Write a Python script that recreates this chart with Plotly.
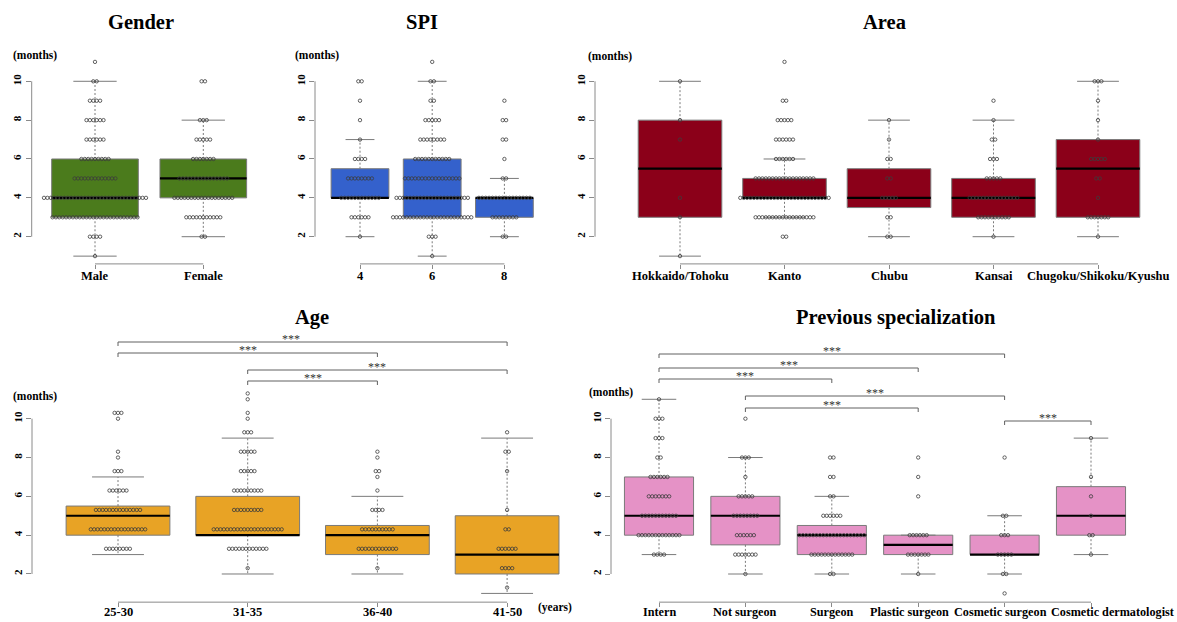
import plotly.graph_objects as go

W, H = 1177, 622

# ---------------- data ----------------
gender_labels = ["Male", "Female"]
gender_q1 = [3, 4]
gender_median = [4, 5]
gender_q3 = [6, 6]
gender_lower = [1, 2]
gender_upper = [10, 8]
gender_dots = [
    {11: 1, 10: 2, 9: 4, 8: 6, 7: 6, 6: 9, 5: 13, 4: 31, 3: 26, 2: 4, 1: 1},
    {10: 2, 8: 3, 7: 5, 6: 7, 5: 15, 4: 18, 3: 11, 2: 2},
]

spi_labels = ["4", "6", "8"]
spi_q1 = [4, 3, 3]
spi_median = [4, 4, 4]
spi_q3 = [5.5, 6, 4]
spi_lower = [2, 1, 2]
spi_upper = [7, 10, 5]
spi_dots = [
    {10: 2, 9: 1, 8: 1, 7: 1, 6: 4, 5: 8, 4: 12, 3: 6, 2: 1},
    {11: 1, 10: 2, 9: 2, 8: 5, 7: 8, 6: 11, 5: 17, 4: 22, 3: 24, 2: 3, 1: 1},
    {9: 1, 8: 2, 7: 2, 6: 1, 5: 2, 4: 16, 3: 8, 2: 2},
]

area_labels = ["Hokkaido/Tohoku", "Kanto", "Chubu", "Kansai", "Chugoku/Shikoku/Kyushu"]
area_q1 = [3, 4, 3.5, 3, 3]
area_median = [5.5, 4, 4, 4, 5.5]
area_q3 = [8, 5, 5.5, 5, 7]
area_lower = [1, 3, 2, 2, 2]
area_upper = [10, 6, 8, 8, 10]
area_dots = [
    {10: 1, 8: 1, 7: 1, 4: 1, 3: 1, 1: 1},
    {11: 1, 9: 2, 8: 5, 7: 6, 6: 6, 5: 18, 4: 27, 3: 18, 2: 2},
    {8: 1, 7: 1, 6: 2, 5: 2, 4: 5, 3: 2, 2: 2},
    {9: 1, 8: 1, 7: 2, 6: 3, 5: 5, 4: 15, 3: 10, 2: 1},
    {10: 3, 9: 1, 8: 1, 7: 1, 6: 5, 5: 2, 4: 1, 3: 7, 2: 1},
]

age_labels = ["25-30", "31-35", "36-40", "41-50"]
age_q1 = [4, 4, 3, 2]
age_median = [5, 4, 4, 3]
age_q3 = [5.5, 6, 4.5, 5]
age_lower = [3, 2, 2, 1]
age_upper = [7, 9, 6, 9]
age_dots = [
    {10.3: 3, 10.0: 1, 8.3: 1, 8.0: 1, 7.3: 3, 6.3: 6, 5.3: 14, 4.3: 17, 3.3: 8},
    {11.3: 1, 11.0: 1, 10.3: 1, 10.0: 1, 9.3: 3, 8.3: 5, 7.3: 5, 6.3: 9, 5.3: 9, 4.3: 21, 3.3: 12, 2.3: 1},
    {8.3: 1, 8.0: 1, 7.3: 2, 7.0: 1, 6.3: 1, 5.3: 4, 4.3: 10, 3.3: 12, 2.3: 1},
    {9.3: 1, 8.3: 2, 7.3: 1, 5.3: 1, 4.3: 2, 3.3: 6, 2.3: 4, 1.3: 1},
]
age_pairs = [(1, 4), (1, 3), (2, 4), (2, 3)]
age_sig = ["***", "***", "***", "***"]
age_star_x = [2.33, 2.0, 3.0, 2.5]

prev_labels = ["Intern", "Not surgeon", "Surgeon", "Plastic surgeon",
               "Cosmetic surgeon", "Cosmetic dermatologist"]
prev_label_x = [1, 2, 3, 3.9, 4.95, 6.25]
prev_q1 = [4, 3.5, 3, 3, 3, 4]
prev_median = [5, 5, 4, 3.5, 3, 5]
prev_q3 = [7, 6, 4.5, 4, 4, 6.5]
prev_lower = [3, 2, 2, 2, 2, 3]
prev_upper = [11, 8, 6, 4, 5, 9]
prev_dots = [
    {11: 1, 10: 3, 9: 3, 8: 2, 7: 6, 6: 7, 5: 11, 4: 13, 3: 4},
    {10: 1, 8: 3, 7: 1, 6: 5, 5: 8, 4: 6, 3: 7, 2: 1},
    {8: 2, 7: 2, 6: 2, 5: 6, 4: 20, 3: 13, 2: 2},
    {8: 1, 7: 1, 6: 1, 4: 6, 3: 7, 2: 1},
    {8: 1, 5: 2, 4: 3, 3: 5, 2: 2, 1: 1},
    {9: 1, 7: 1, 6: 1, 5: 1, 4: 2, 3: 1},
]
prev_pairs = [(1, 5), (1, 4), (1, 3), (2, 5), (2, 4), (5, 6)]
prev_sig = ["***"] * 6

y_ticks = [2, 4, 6, 8, 10]

# ---------------- style ----------------
FONT = "Liberation Serif"
BOX_LINE = "#7a7a7a"
AX_COL = "#8a8a8a"
DOT_COL = "#3c3c3c"
DOT_STEP_PX = 3.4
XLAB_SIZE = 12.5

fig = go.Figure()
shapes = []
annotations = []


def add_panel(idx, labels, q1, med, q3, lo, hi, dots, color,
              L, R, c1, step, y10, y2, yr, label_x=None, label_dy=12, label_size=XLAB_SIZE):
    n = len(labels)
    if label_x is None:
        label_x = list(range(1, n + 1))
    xa = 'x' if idx == 1 else f'x{idx}'
    ya = 'y' if idx == 1 else f'y{idx}'
    u = (y2 - y10) / 8.0
    top = y10 - (yr[1] - 10) * u
    bot = y2 + (2 - yr[0]) * u
    xr = [1 - (c1 - L) / step, 1 + (R - c1) / step]

    bx, by, wx, wy, cx, cy, mx, my = [], [], [], [], [], [], [], []
    for i in range(n):
        g = i + 1
        bx += [g - 0.4, g + 0.4, g + 0.4, g - 0.4, g - 0.4, None]
        by += [q1[i], q1[i], q3[i], q3[i], q1[i], None]
        wx += [g, g, None, g, g, None]
        wy += [q3[i], hi[i], None, q1[i], lo[i], None]
        cx += [g - 0.2, g + 0.2, None, g - 0.2, g + 0.2, None]
        cy += [hi[i], hi[i], None, lo[i], lo[i], None]
        mx += [g - 0.4, g + 0.4, None]
        my += [med[i], med[i], None]

    common = dict(xaxis=xa, yaxis=ya, hoverinfo='skip', showlegend=False)
    fig.add_trace(go.Scatter(x=bx, y=by, mode='lines', fill='toself', fillcolor=color,
                             line=dict(color=BOX_LINE, width=1), **common))
    fig.add_trace(go.Scatter(x=wx, y=wy, mode='lines',
                             line=dict(color=BOX_LINE, width=1, dash='2px,2px'), **common))
    fig.add_trace(go.Scatter(x=cx, y=cy, mode='lines',
                             line=dict(color=BOX_LINE, width=1), **common))
    fig.add_trace(go.Scatter(x=mx, y=my, mode='lines',
                             line=dict(color='black', width=2.2), **common))

    dx = DOT_STEP_PX / step
    px_, py_ = [], []
    for i in range(n):
        g = i + 1
        for v, c in dots[i].items():
            for k in range(c):
                px_.append(g + (k - (c - 1) / 2.0) * dx)
                py_.append(v)
    fig.add_trace(go.Scatter(x=px_, y=py_, mode='markers',
                             marker=dict(symbol='circle-open', size=3.4, color=DOT_COL,
                                         line=dict(width=0.8, color=DOT_COL)),
                             cliponaxis=False, **common))

    xkey = 'xaxis' if idx == 1 else f'xaxis{idx}'
    ykey = 'yaxis' if idx == 1 else f'yaxis{idx}'
    fig.update_layout({
        xkey: dict(domain=[L / W, R / W], range=xr, anchor=ya, automargin=False,
                   tickvals=list(range(1, n + 1)), showticklabels=False,
                   ticks='outside', ticklen=4, tickcolor=AX_COL,
                   showline=False, showgrid=False, zeroline=False),
        ykey: dict(domain=[1 - bot / H, 1 - top / H], range=yr, anchor=xa, automargin=False,
                   tickvals=y_ticks, ticks='outside', ticklen=5, tickcolor=AX_COL,
                   tickangle=-90, showline=False, showgrid=False, zeroline=False,
                   tickfont=dict(family=FONT, size=11, color='black', weight='bold')),
    })
    shapes.append(dict(type='line', xref='paper', yref=ya, x0=L / W, x1=L / W,
                       y0=2, y1=10, line=dict(color=AX_COL, width=1)))
    shapes.append(dict(type='line', xref=xa, yref='paper', x0=1, x1=n,
                       y0=1 - bot / H, y1=1 - bot / H, line=dict(color=AX_COL, width=1)))
    for lab, lx in zip(labels, label_x):
        annotations.append(dict(xref=xa, yref='paper', x=lx, y=1 - (bot + label_dy) / H,
                                text=lab, showarrow=False, yanchor='middle',
                                font=dict(family=FONT, size=label_size, color='black',
                                          weight='bold')))
    return xa


def add_brackets(xa, pairs, sig, line_px, star_x):
    for (a, b), s, py, sx in zip(pairs, sig, line_px, star_x):
        yl = 1 - py / H
        yt = 1 - (py + 4) / H
        shapes.append(dict(type='path', xref=xa, yref='paper',
                           path=f"M {a},{yt} L {a},{yl} L {b},{yl} L {b},{yt}",
                           line=dict(color='#606060', width=1)))
        annotations.append(dict(xref=xa, yref='paper', x=sx, y=1 - (py - 3) / H,
                                text=s, showarrow=False, yanchor='middle',
                                font=dict(family=FONT, size=12, color='#333333')))


add_panel(1, gender_labels, gender_q1, gender_median, gender_q3, gender_lower, gender_upper,
          gender_dots, '#4B7B1C', L=31.7, R=266, c1=95, step=108.3, y10=81.3, y2=236.7, yr=[0.6, 11.4])
add_panel(2, spi_labels, spi_q1, spi_median, spi_q3, spi_lower, spi_upper,
          spi_dots, '#3461CC', L=315, R=550, c1=360, step=72.2, y10=81.3, y2=236.7, yr=[0.6, 11.4])
add_panel(3, area_labels, area_q1, area_median, area_q3, area_lower, area_upper,
          area_dots, '#8B0019', L=595, R=1172, c1=680, step=104.5, y10=81.3, y2=236.7, yr=[0.6, 11.4])
xa4 = add_panel(4, age_labels, age_q1, age_median, age_q3, age_lower, age_upper,
                age_dots, '#E8A325', L=32, R=590, c1=118, step=129.7, y10=418.7, y2=574, yr=[0.55, 11.7],
                label_dy=10)
xa5 = add_panel(5, prev_labels, prev_q1, prev_median, prev_q3, prev_lower, prev_upper,
                prev_dots, '#E592C6', L=611, R=1140, c1=659, step=86.4, y10=418.7, y2=574, yr=[0.55, 11.4],
                label_x=prev_label_x, label_dy=10, label_size=12.2)

add_brackets(xa4, age_pairs, age_sig, [342, 353, 370, 381], age_star_x)
add_brackets(xa5, prev_pairs, prev_sig, [354, 368, 379, 396, 408, 421],
             [(a + b) / 2 for a, b in prev_pairs])


def text(px, py, s, size, anchor='center'):
    annotations.append(dict(xref='paper', yref='paper', x=px / W, y=1 - py / H, text=s,
                            showarrow=False, xanchor=anchor, yanchor='middle',
                            font=dict(family=FONT, size=size, color='black', weight='bold')))


text(141, 22, "Gender", 20.5)
text(422, 22, "SPI", 20.5)
text(884, 22, "Area", 20.5)
text(312, 317, "Age", 20.5)
text(896, 317, "Previous specialization", 20.5)
text(11, 55, "(months)", 11.5, 'left')
text(293, 55, "(months)", 11.5, 'left')
text(586, 57, "(months)", 11.5, 'left')
text(11, 396, "(months)", 11.5, 'left')
text(587, 392, "(months)", 11.5, 'left')
text(536, 607, "(years)", 11.5, 'left')

fig.update_layout(width=W, height=H, margin=dict(l=0, r=0, t=0, b=0, autoexpand=False),
                  paper_bgcolor='white', plot_bgcolor='rgba(0,0,0,0)',
                  showlegend=False, shapes=shapes, annotations=annotations,
                  font=dict(family=FONT))

fig.write_html("out.html", config={'displayModeBar': False},
               post_script="document.body.style.margin='0';document.body.style.overflow='hidden';")
